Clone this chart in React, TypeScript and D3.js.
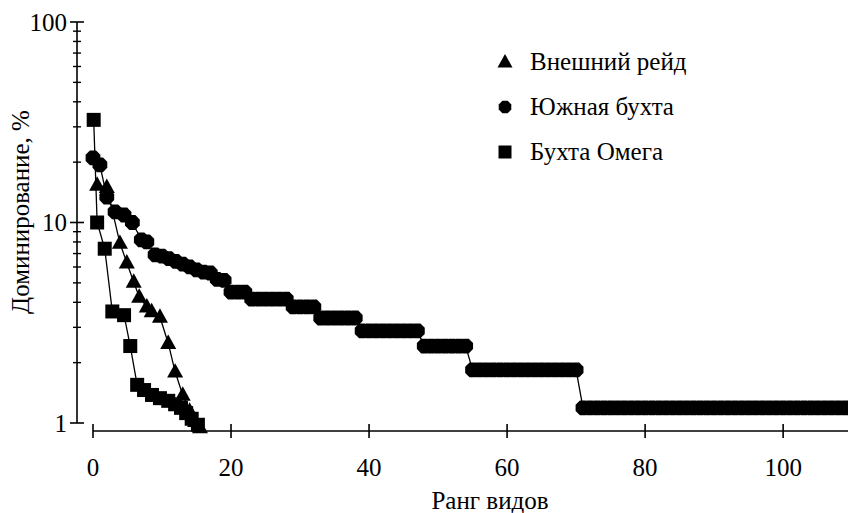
import React from 'react';
import * as d3 from 'd3';

// Внешний рейд (triangles)
const raidX = [0.6, 2.0, 3.9, 4.9, 5.9, 6.7, 7.8, 8.5, 9.7, 10.9, 11.9, 13.0, 14.0, 14.8, 15.5];
const raidY = [15.4, 15.0, 7.9, 6.3, 5.05, 4.25, 3.8, 3.6, 3.38, 2.5, 1.8, 1.38, 1.15, 1.02, 0.95];

// Южная бухта (octagons)
const southX = [
  0, 1, 2, 3.2, 4.5, 5.7, 7, 7.8, 9, 10, 11, 12, 13, 14, 15, 16, 17, 18, 19, 20, 21, 22,
  23, 24, 25, 26, 27, 28, 29, 30, 31, 32, 33, 34, 35, 36, 37, 38, 39, 40, 41, 42, 43, 44,
  45, 46, 47, 48, 49, 50, 51, 52, 53, 54, 55, 56, 57, 58, 59, 60, 61, 62, 63, 64, 65, 66,
  67, 68, 69, 70, 71, 72, 73, 74, 75, 76, 77, 78, 79, 80, 81, 82, 83, 84, 85, 86, 87, 88,
  89, 90, 91, 92, 93, 94, 95, 96, 97, 98, 99, 100, 101, 102, 103, 104, 105, 106, 107, 108, 109,
];
const southY = [
  21.0, 19.4, 13.4, 11.3, 10.9, 10.0, 8.2, 8.0, 6.9, 6.8, 6.6, 6.4, 6.2, 6.0, 5.8, 5.66, 5.6,
  5.2, 5.15, 4.5, 4.5, 4.5,
  4.15, 4.15, 4.15, 4.15, 4.15, 4.15,
  3.79, 3.79, 3.79, 3.79,
  3.34, 3.34, 3.34, 3.34, 3.34, 3.34,
  2.88, 2.88, 2.88, 2.88, 2.88, 2.88, 2.88, 2.88, 2.88,
  2.42, 2.42, 2.42, 2.42, 2.42, 2.42, 2.42,
  1.84, 1.84, 1.84, 1.84, 1.84, 1.84, 1.84, 1.84, 1.84, 1.84, 1.84, 1.84, 1.84, 1.84, 1.84, 1.84,
  1.19, 1.19, 1.19, 1.19, 1.19, 1.19, 1.19, 1.19, 1.19, 1.19, 1.19, 1.19, 1.19, 1.19, 1.19, 1.19,
  1.19, 1.19, 1.19, 1.19, 1.19, 1.19, 1.19, 1.19, 1.19, 1.19, 1.19, 1.19, 1.19, 1.19, 1.19, 1.19,
  1.19, 1.19, 1.19, 1.19, 1.19, 1.19, 1.19,
];

// Бухта Омега (squares)
const omegaX = [0.1, 0.6, 1.7, 2.8, 4.5, 5.4, 6.4, 7.4, 8.55, 9.7, 10.9, 11.9, 12.75, 13.5, 14.3, 15.2];
const omegaY = [32.5, 10.0, 7.4, 3.6, 3.45, 2.42, 1.55, 1.46, 1.38, 1.33, 1.29, 1.24, 1.19, 1.12, 1.05, 0.98];

const legendNames = ['Внешний рейд', 'Южная бухта', 'Бухта Омега'];
const xTicks = [0, 20, 40, 60, 80, 100];
const yMajor = [1, 10, 100];

const W = 848;
const H = 513;
const FONT = 'Liberation Serif';
const FS = 25;

const x = d3.scaleLinear().domain([0, 109.4]).range([93, 848]);
const y = d3.scaleLog().domain([1, 100]).range([423, 22]);

const yMinor = d3.range(2, 10).concat(d3.range(20, 100, 10));

const octagon = (r: number) => {
  const pts = d3.range(8).map(k => {
    const a = Math.PI / 8 + (k * Math.PI) / 4;
    return [r * Math.cos(a), r * Math.sin(a)] as [number, number];
  });
  return d3.line()(pts) + 'Z';
};
const triangle = (s: number) => {
  const h = s * 0.9;
  return `M0,${-h * 0.6}L${s / 2},${h * 0.4}L${-s / 2},${h * 0.4}Z`;
};
const square = (s: number) => `M${-s / 2},${-s / 2}h${s}v${s}h${-s}Z`;

const pair = (xs: number[], ys: number[]) => xs.map((v, i) => [v, ys[i]] as [number, number]);

const line = d3
  .line<[number, number]>()
  .x(d => x(d[0]))
  .y(d => y(d[1]));

const App = () => {
  const raid = pair(raidX, raidY);
  const south = pair(southX, southY);
  const omega = pair(omegaX, omegaY);

  const series = [
    { data: raid, shape: triangle(16) },
    { data: south, shape: octagon(8) },
    { data: omega, shape: square(14) },
  ];
  const legendShapes = [triangle(15), octagon(6.8), square(13)];

  return (
    <svg width={W} height={H} style={{ position: 'absolute', left: 0, top: 0, fontFamily: FONT }}>
      <rect width={W} height={H} fill="#fff" />
      {/* y axis */}
      <line x1={77} x2={77} y1={y(100)} y2={y(1)} stroke="#000" strokeWidth={1.6} />
      {yMajor.map(t => (
        <g key={t}>
          <line x1={70} x2={84} y1={y(t)} y2={y(t)} stroke="#000" strokeWidth={1.6} />
          <text x={67} y={y(t)} dy="0.35em" textAnchor="end" fontFamily={FONT} fontSize={FS}>
            {t}
          </text>
        </g>
      ))}
      {yMinor.map(t => (
        <line key={t} x1={73} x2={81} y1={y(t)} y2={y(t)} stroke="#000" strokeWidth={1.4} />
      ))}
      <text
        transform={`translate(29,212) rotate(-90)`}
        textAnchor="middle"
        fontFamily={FONT}
        fontSize={FS}
      >
        Доминирование, %
      </text>

      {/* x axis */}
      <line x1={x(0)} x2={W} y1={431} y2={431} stroke="#000" strokeWidth={1.6} />
      {xTicks.map(t => (
        <g key={t}>
          <line x1={x(t)} x2={x(t)} y1={424} y2={438} stroke="#000" strokeWidth={1.6} />
          <text x={x(t)} y={467} dy="0.35em" textAnchor="middle" fontFamily={FONT} fontSize={FS}>
            {t}
          </text>
        </g>
      ))}
      <text x={490} y={500} dy="0.35em" textAnchor="middle" fontFamily={FONT} fontSize={FS}>
        Ранг видов
      </text>

      {/* series */}
      {series.map((s, i) => (
        <g key={i}>
          <path d={line(s.data) || ''} fill="none" stroke="#000" strokeWidth={1.3} />
          {s.data.map((d, j) => (
            <path key={j} d={s.shape} transform={`translate(${x(d[0])},${y(d[1])})`} fill="#000" />
          ))}
        </g>
      ))}

      {/* legend */}
      {legendNames.map((n, i) => (
        <g key={n} transform={`translate(505,${62 + i * 45})`}>
          <path d={legendShapes[i]} fill="#000" />
          <text x={25} y={0} dy="0.32em" fontFamily={FONT} fontSize={FS}>
            {n}
          </text>
        </g>
      ))}
    </svg>
  );
};

export default App;
